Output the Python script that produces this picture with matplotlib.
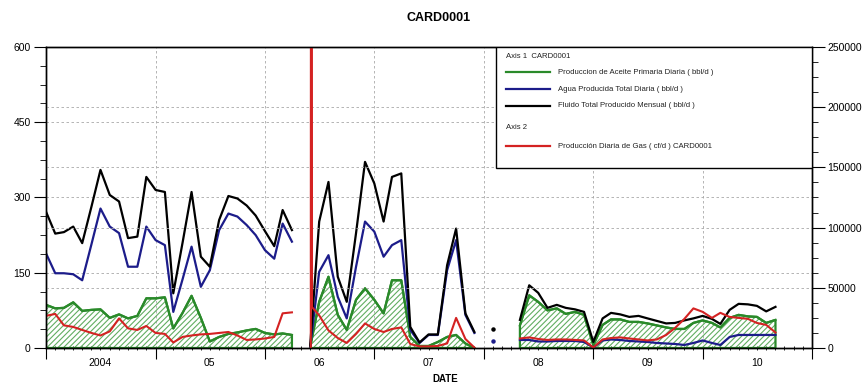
import numpy as np
import pandas as pd
import matplotlib
matplotlib.use("Agg")
import matplotlib.pyplot as plt
import matplotlib.dates as mdates
from matplotlib.ticker import MultipleLocator
from matplotlib.patches import Rectangle

plt.rcParams['font.family'] = ['Liberation Sans', 'DejaVu Sans']
plt.rcParams['hatch.linewidth'] = 0.8

well = "CARD0001"

# monthly rates from 2004-01 to 2010-09, None = well shut in
months = pd.date_range("2004-01-01", "2010-09-01", freq="MS")
N = None

# oil, bbl/d
oil = [86, 79, 80, 91, 74, 76, 77, 60, 67, 59, 64, 99, 99, 101, 39, 70, 104, 60, 13, 22,
       28, 31, 35, 38, 30, 27, 29, 26,
       N,
       2, 92, 142, 66, 36, 96, 119, 96, 69, 135, 135, 22, 4, 4, 12, 22, 26, 9, 0,
       N, N, N, N,
       45, 105, 92, 75, 79, 68, 72, 66, 6, 46, 57, 57, 52, 52, 49, 45, 41, 38, 38, 50,
       55, 50, 41, 60, 66, 63, 62, 50, 56]
# water, bbl/d
water = [189, 149, 149, 147, 135, 207, 278, 242, 229, 162, 162, 242, 215, 205, 72, 137, 202, 122, 155, 235,
         268, 262, 245, 225, 195, 178, 248, 212,
         N,
         3, 152, 185, 102, 59, 162, 252, 232, 182, 205, 215, 36, 10, 26, 26, 155, 215, 66, 30,
         N, 13, N, N,
         16, 16, 13, 13, 14, 14, 14, 12, 1, 15, 17, 16, 14, 13, 12, 10, 9, 8, 6, 10,
         15, 10, 6, 22, 26, 26, 26, 26, 26]
# total fluid, bbl/d
fluid = [272, 228, 231, 242, 209, 282, 355, 305, 292, 219, 222, 341, 315, 311, 109, 210, 311, 182, 162, 255,
         303, 298, 284, 264, 233, 203, 275, 235,
         N,
         5, 252, 331, 142, 92, 229, 371, 328, 252, 341, 348, 42, 11, 27, 27, 165, 238, 69, 32,
         N, 38, N, N,
         56, 125, 110, 80, 86, 80, 77, 72, 12, 59, 70, 67, 62, 64, 59, 54, 49, 50, 55, 59,
         64, 58, 48, 76, 88, 87, 84, 73, 82]
# gas, cf/d
gas = [26700, 28300, 18800, 17500, 15000, 12500, 10400, 13800, 24600, 16300, 15000, 18300, 12500, 11700,
       4600, 9200, 10400, 11300, 11700, 12500, 13300, 10400, 6700, 7100, 7900, 9200, 28800, 29600,
       N,
       N, 27100, 14600, 8300, 4200, 11700, 20400, 15800, 13300, 15800, 17100, 3300, 1300, 1300, 1700,
       3800, 25000, 7500, 400,
       N, N, N, N,
       7900, 8800, 7500, 6700, 7100, 7100, 6700, 6300, 400, 7100, 8300, 8800, 7900, 7100, 6300, 7100,
       10800, 16700, 24200, 32900, 30000, 25000, 29200, 25800, 25000, 24200, 20800, 19200, 12900]
# daily gas readings when the well came back in June 2006
gas_test_dates = ["2006-06-03", "2006-06-05", "2006-06-07"]
gas_test = [0, 1500000, 34000]

year_ticks = pd.date_range("2004-01-01", "2011-01-01", freq="YS")
year_mid = pd.date_range("2004-07-01", "2010-07-01", freq="12MS")
year_labels = ["2004", "05", "06", "07", "08", "09", "10"]

GREEN = "#2a8a2a"
BLUE = "#1c1c8a"
RED = "#d42222"
GRID = dict(color="#a8a8a8", linestyle=(0, (3, 3)), linewidth=0.6)

x = months.to_numpy()
oil_a = np.array(oil, dtype=float)
water_a = np.array(water, dtype=float)
fluid_a = np.array(fluid, dtype=float)

gas_s = pd.Series(np.array(gas, dtype=float), index=months)
gas_s = pd.concat([gas_s, pd.Series(gas_test, index=pd.to_datetime(gas_test_dates), dtype=float)])
gas_s = gas_s.sort_index()


def lonely(v):
    # months with a value but nothing on either side
    ok = ~np.isnan(v)
    prev = np.r_[False, ok[:-1]]
    nxt = np.r_[ok[1:], False]
    return ok & ~prev & ~nxt


fig = plt.figure(figsize=(8.67, 3.89), dpi=100)
ax = fig.add_axes([0.053, 0.1054, 0.8836, 0.7738])
ax2 = ax.twinx()

ax.fill_between(x, 0, oil_a, facecolor="none", edgecolor="#62ad62", hatch="//////", linewidth=0)
ax.fill_between(x, 0, oil_a, facecolor="none", edgecolor=GREEN, linewidth=1.6)
ax.plot(x, oil_a, color=GREEN, lw=1.6)
ax.plot(x, water_a, color=BLUE, lw=1.6)
ax.plot(x, fluid_a, color="black", lw=1.6)
for v, c in [(water_a, BLUE), (fluid_a, "black")]:
    m = lonely(v)
    ax.plot(x[m], v[m], "o", color=c, ms=2.2, ls="none")

ax2.plot(gas_s.index.to_numpy(), gas_s.values, color=RED, lw=1.5)

ax.set_xlim(year_ticks[0], year_ticks[-1])
ax.set_ylim(0, 600)
ax2.set_ylim(0, 250000)

ax.set_yticks([0, 150, 300, 450, 600])
ax.yaxis.set_minor_locator(MultipleLocator(37.5))
ax2.set_yticks(np.arange(0, 250001, 50000))
ax2.set_yticklabels([str(v) for v in range(0, 250001, 50000)])
ax2.yaxis.set_minor_locator(MultipleLocator(12500))

ax.set_xticks(year_ticks)
ax.set_xticklabels([])
ax.xaxis.set_minor_locator(mdates.MonthLocator())
ax.tick_params(axis="x", which="major", length=8, width=0.8, direction="out")
ax.tick_params(axis="x", which="minor", length=3, width=0.6, direction="inout")

sec = ax.secondary_xaxis("bottom")
sec.set_xticks(mdates.date2num(year_mid.to_pydatetime()))
sec.set_xticklabels(year_labels)
sec.tick_params(length=0, pad=7, labelsize=7.5)
sec.spines["bottom"].set_visible(False)

for a in (ax, ax2):
    a.tick_params(axis="y", which="major", length=9, width=0.8, labelsize=7.5, pad=2)
    a.tick_params(axis="y", which="minor", length=4, width=0.6)
    for sp in a.spines.values():
        sp.set_linewidth(1.0)

ax.grid(True, axis="x", which="major", **GRID)
ax.grid(True, axis="y", which="major", **GRID)
ax2.grid(True, axis="y", which="major", **GRID)
ax.set_axisbelow(True)

# legend box, laid out in axes fraction
leg = Rectangle((0.588, 0.599), 0.412, 0.401, transform=ax2.transAxes,
                facecolor="white", edgecolor="black", linewidth=1.0, zorder=10)
ax2.add_patch(leg)
txt = dict(transform=ax2.transAxes, fontsize=5.6, va="center", zorder=11, color="#222222")
ax2.text(0.601, 0.968, "Axis 1  " + well, **txt)
rows = [(0.916, GREEN, "Produccion de Aceite Primaria Diaria ( bbl/d )"),
        (0.860, BLUE, "Agua Producida Total Diaria ( bbl/d )"),
        (0.804, "black", "Fluido Total Producido Mensual ( bbl/d )"),
        (0.671, RED, "Producción Diaria de Gas ( cf/d ) " + well)]
ax2.text(0.601, 0.733, "Axis 2", **txt)
for yy, c, lab in rows:
    ax2.plot([0.601, 0.658], [yy, yy], color=c, lw=1.6, transform=ax2.transAxes,
             zorder=11, clip_on=False)
    ax2.text(0.668, yy, lab, **txt)

fig.text(0.506, 0.953, well, ha="center", va="center", fontsize=9, fontweight="bold")
fig.text(0.513, 0.025, "DATE", ha="center", va="center", fontsize=7, fontweight="bold")

fig.savefig("out.png", dpi=100)
